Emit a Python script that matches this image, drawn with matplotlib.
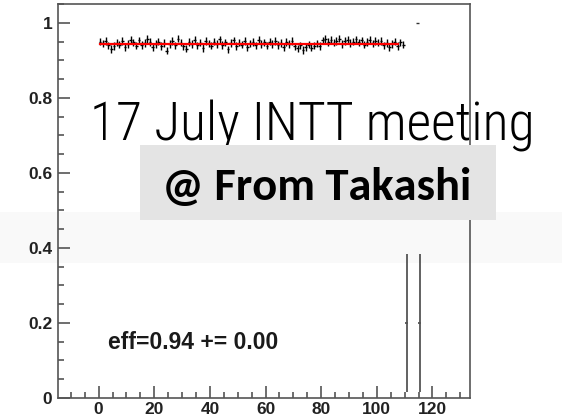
import numpy as np
import matplotlib
matplotlib.use("Agg")
import matplotlib.pyplot as plt
import matplotlib.patches as mpatches
from matplotlib.ticker import MultipleLocator, FuncFormatter

# ---------------------------------------------------------------------------
# Per-channel efficiency (channels 0..109), with the two low-stat channels
# and the single overflow entry kept separately
# ---------------------------------------------------------------------------

channel = np.arange(110) + 0.5
eff_values = [
    0.950, 0.945, 0.952, 0.940, 0.930, 0.938, 0.947, 0.942, 0.951, 0.936,
    0.944, 0.955, 0.948, 0.939, 0.953, 0.941, 0.946, 0.957, 0.949, 0.935,
    0.943, 0.950, 0.938, 0.946, 0.926, 0.944, 0.952, 0.940, 0.958, 0.947,
    0.937, 0.931, 0.949, 0.943, 0.954, 0.940, 0.947, 0.933, 0.951, 0.945,
    0.939, 0.950, 0.944, 0.956, 0.941, 0.948, 0.929, 0.946, 0.953, 0.938,
    0.947, 0.942, 0.951, 0.936, 0.945, 0.949, 0.940, 0.954, 0.943, 0.948,
    0.939, 0.950, 0.944, 0.952, 0.941, 0.946, 0.935, 0.949, 0.943, 0.951,
    0.937, 0.932, 0.940, 0.928, 0.936, 0.942, 0.934, 0.939, 0.945, 0.938,
    0.953, 0.957, 0.949, 0.955, 0.947, 0.952, 0.958, 0.944, 0.951, 0.954,
    0.946, 0.950, 0.956, 0.948, 0.953, 0.942, 0.949, 0.955, 0.945, 0.951,
    0.947, 0.952, 0.940, 0.946, 0.936, 0.944, 0.950, 0.938, 0.948, 0.942,
]
eff_err = 0.010

low_channel = [110.7, 115.4]
low_eff = [0.20, 0.20]
low_err = [0.185, 0.185]

full_channel = [114.5]
full_eff = [1.0]

fit_eff = 0.944
fit_err = 0.00
fit_range = (0.4, 107.5)

# ---------------------------------------------------------------------------
# Figure
# ---------------------------------------------------------------------------

W, H = 562, 419
fig = plt.figure(figsize=(W / 100, H / 100), dpi=100)
fig.patch.set_facecolor("white")

# faint horizontal band in the background
fig.patches.append(mpatches.Rectangle((0, 1 - 263 / H), 1, 51 / H, transform=fig.transFigure,
                                      facecolor="#f9f9f9", edgecolor="none", zorder=-1))

ax = fig.add_axes([58 / W, 1 - 398 / H, (470 - 58) / W, (398 - 4) / H])
ax.set_facecolor("none")
frame_col = "#555555"
for sp in ax.spines.values():
    sp.set_color(frame_col)
    sp.set_linewidth(1.2)

ax.errorbar(channel, eff_values, yerr=eff_err, xerr=0.5, fmt="none",
            ecolor="black", elinewidth=1.0, capsize=0, zorder=2)
ax.errorbar(low_channel, low_eff, yerr=low_err, xerr=0.5, fmt="none",
            ecolor="#555555", elinewidth=1.3, capsize=0, zorder=2)
ax.errorbar(full_channel, full_eff, xerr=0.5, fmt="none",
            ecolor="#333333", elinewidth=1.0, capsize=0, zorder=2)
ax.plot(fit_range, [fit_eff, fit_eff], color="red", lw=1.6, zorder=3)

ax.set_xlim(-14.6, 133.5)
ax.set_ylim(0, 1.05)
ax.xaxis.set_major_locator(MultipleLocator(20))
ax.xaxis.set_minor_locator(MultipleLocator(5))
ax.yaxis.set_major_locator(MultipleLocator(0.2))
ax.yaxis.set_minor_locator(MultipleLocator(0.05))
fmt = FuncFormatter(lambda v, p: f"{v:g}")
ax.xaxis.set_major_formatter(fmt)
ax.yaxis.set_major_formatter(fmt)
ax.tick_params(which="both", direction="in", color=frame_col, width=1.2,
               top=False, right=False)
ax.tick_params(which="major", length=8.6)
ax.tick_params(which="minor", length=4)
ax.tick_params(axis="y", pad=4)
ax.tick_params(axis="x", pad=3)
for lab in ax.get_xticklabels() + ax.get_yticklabels():
    lab.set_family("Liberation Sans")
    lab.set_fontweight("bold")
    lab.set_fontsize(12.5)
    lab.set_color("#222222")

ax.text(3.3, 0.148, f"eff={fit_eff:.2f} += {fit_err:.2f}", family="Liberation Sans",
        fontweight="bold", fontsize=16.5, color="#1a1a1a", ha="left", va="center")

# slide annotations on top of the plot
fig.text(90 / W, 1 - 140 / H, "17 July INTT meeting", family="Roboto Condensed",
         fontweight=300, fontsize=38.6, color="black", ha="left", va="baseline", zorder=3)
fig.patches.append(mpatches.Rectangle((140 / W, 1 - 220 / H), (496 - 140) / W, 75 / H,
                                      transform=fig.transFigure, facecolor="#e4e4e4",
                                      edgecolor="none", zorder=4))
fig.text(317 / W, 1 - 200 / H, "@ From Takashi", family="Carlito", fontweight="bold",
         fontsize=33.5, color="black", ha="center", va="baseline", zorder=5)

fig.savefig("out.png", dpi=100)
